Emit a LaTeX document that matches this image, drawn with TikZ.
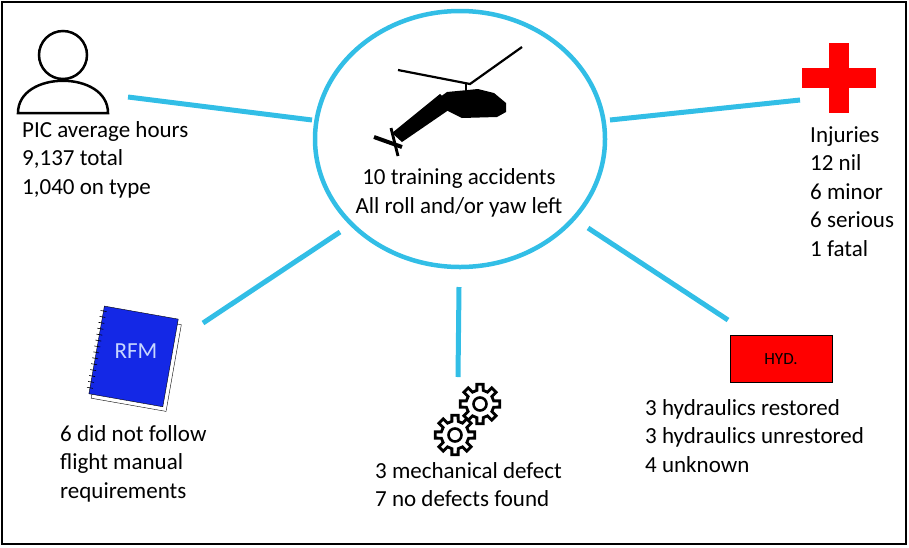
\documentclass[tikz,border=0pt]{standalone}
\usepackage{fontspec}
\usetikzlibrary{shapes.geometric}
\setmainfont{Carlito}
\begin{document}
\begin{tikzpicture}[x=1pt,y=-1pt,
  spoke/.style={line width=5pt,draw={rgb,255:red,50;green,190;blue,230}},
  lbl/.style={font=\fontsize{23}{28.5}\selectfont,align=left,anchor=north west,inner sep=0},
  gear/.style={line width=2.8pt,draw=black,fill=white}]
\useasboundingbox (0,0) rectangle (909,547);
\draw[line width=1.5pt] (2,2) rectangle (906,544);
\coordinate (c) at (460,139);
% spokes
\coordinate (p1) at (128,97); \coordinate (q1) at (312,120);
\coordinate (p2) at (800,100); \coordinate (q2) at (610,120);
\coordinate (p3) at (203,323); \coordinate (q3) at (340,232);
\coordinate (p4) at (458,377); \coordinate (q4) at (459,287);
\coordinate (p5) at (728,320); \coordinate (q5) at (588,228);
\foreach \i in {1,...,5}{\draw[spoke] (p\i) -- (q\i);}
\node[spoke,line width=4.5pt,ellipse,minimum width=290pt,minimum height=256pt,fill=white] (hub) at (c) {};
\node[font=\fontsize{23}{28.5}\selectfont,align=center] (hubt) at (459,193) {10 training accidents\\All roll and/or yaw left};
% helicopter
\draw[line width=2.2pt] (398,70) -- (470,84) -- (522,47);
\draw[line width=2.2pt] (466,84) -- (466,92);
\fill (447,92) -- (478,89) -- (494,93) -- (506,103) -- (506,112) -- (497,117) -- (462,118) -- (448,111) -- (436,100) -- cycle;
\fill (440,94) -- (453,107) -- (402,142) -- (392,133) -- cycle;
\draw[line width=4pt] (374,137) -- (402,147);
\draw[line width=2.8pt] (391,128) -- (398,156);
% person
\draw[line width=2.5pt] (63,55) circle (24);
\draw[line width=2.5pt] (18,113) .. controls (18,70) and (108,70) .. (108,113) -- cycle;
\node[lbl] (pic) at (22,121) {PIC average hours\\9,137 total\\1,040 on type};
% cross
\fill[red] (829,43) rectangle (849,113);
\fill[red] (802,68) rectangle (876,88);
\node[lbl] (inj) at (810,126) {Injuries\\12 nil\\6 minor\\6 serious\\1 fatal};
% book
\begin{scope}[shift={(134,357)},rotate=-10]
\draw[fill=white] (-35,-40) rectangle (41,48);
\draw[fill={rgb,255:red,20;green,40;blue,230},draw=black] (-38,-45) rectangle (37,44);
\foreach \k in {-40,-34,...,40}{\draw[line width=0.6pt] (-41,\k) -- (-35,\k);}
\node[text={rgb,255:red,200;green,215;blue,255},font=\fontsize{23}{24}\selectfont] (rfm) at (1,-6) {RFM};
\end{scope}
\node[lbl] (rfmt) at (60,425) {6 did not follow\\flight manual\\requirements};
% gears
\foreach \cx/\cy in {480/404,455/435}{
\draw[gear,shift={(\cx,\cy)}] (-13:14pt) \foreach \a in {0,45,...,315}{ -- (\a-9:20pt) -- (\a+9:20pt) -- (\a+13:14pt) -- (\a+32:14pt)} -- cycle;
\draw[line width=2.6pt,shift={(\cx,\cy)}] (0,0) circle (6.5pt);}
\node[lbl] (mech) at (375,462) {3 mechanical defect\\7 no defects found};
% HYD
\node[draw,line width=1pt,fill=red,minimum width=102pt,minimum height=47pt,font=\fontsize{17}{18}\selectfont] (hyd) at (781,359) {HYD.};
\node[lbl] (hydt) at (645,399) {3 hydraulics restored\\3 hydraulics unrestored\\4 unknown};
\end{tikzpicture}
\end{document}
